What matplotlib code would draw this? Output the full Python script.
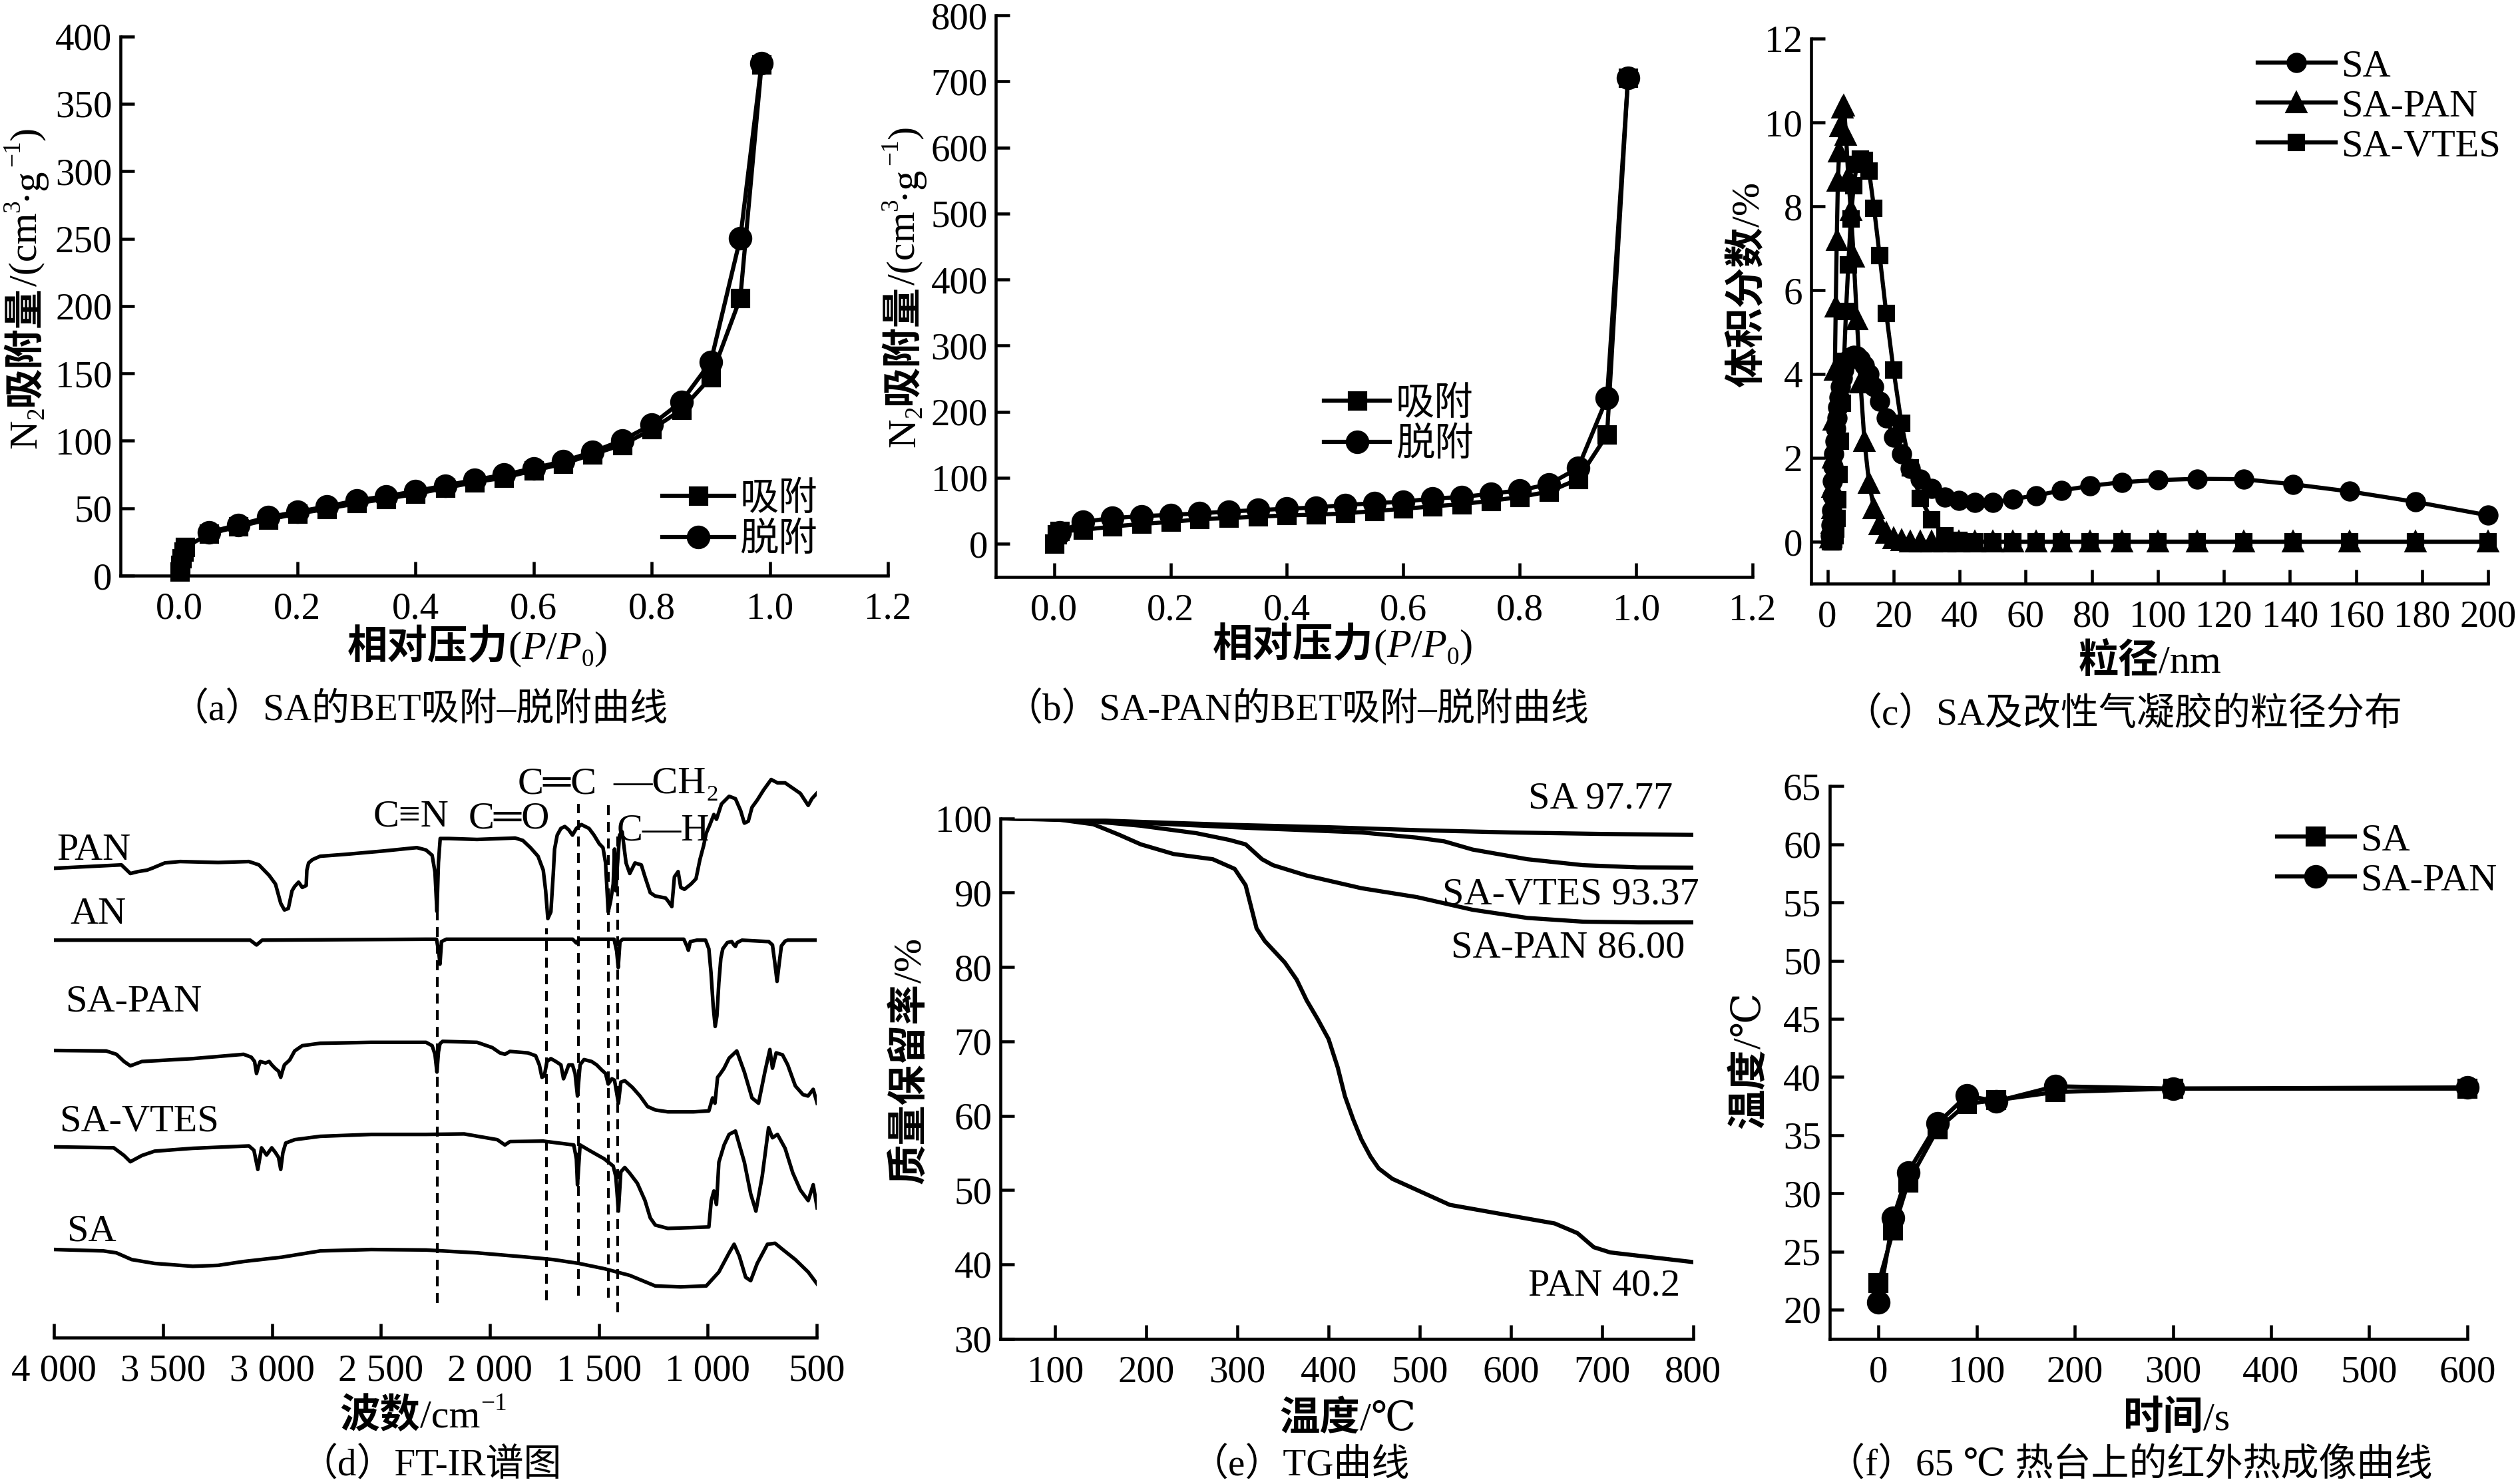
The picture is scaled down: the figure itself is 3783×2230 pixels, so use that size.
import numpy as np
import matplotlib
matplotlib.use('Agg')
import matplotlib.pyplot as plt
from matplotlib.ticker import FormatStrFormatter

SERIF = ['Liberation Serif', 'DejaVu Serif', 'Noto Sans CJK SC']
plt.rcParams['font.family'] = SERIF
plt.rcParams['axes.linewidth'] = 1.1
plt.rcParams['axes.unicode_minus'] = False

W, H, DPI = 3783, 2230, 300

# (a) SA BET isotherm
a_p_ads = [0.0005, 0.002, 0.004, 0.007, 0.01, 0.05, 0.10, 0.15, 0.20, 0.25, 0.30, 0.35, 0.40,
           0.45, 0.50, 0.55, 0.60, 0.65, 0.70, 0.75, 0.80, 0.85, 0.90, 0.95, 0.986]
a_v_ads = [3, 8, 13, 18, 21, 31, 36.4, 41.6, 46, 49.5, 53.7, 57, 60.6,
           65, 69.3, 72.7, 78, 83, 90, 97, 108.4, 123, 147, 206, 379]
a_p_des = [0.986, 0.95, 0.90, 0.85, 0.80, 0.75, 0.70, 0.65, 0.60, 0.55, 0.50,
           0.45, 0.40, 0.35, 0.30, 0.25, 0.20, 0.15, 0.10, 0.05]
a_v_des = [380, 250.4, 158.6, 129, 112, 100.4, 91.8, 84.8, 79.7, 74.8, 71,
           66.8, 62.7, 58.9, 55.8, 51.3, 47.4, 43.3, 37.7, 32.2]

# (b) SA-PAN BET isotherm
b_p_ads = [0.0005, 0.005, 0.01, 0.05, 0.10, 0.15, 0.20, 0.25, 0.30, 0.35, 0.40, 0.45,
           0.50, 0.55, 0.60, 0.65, 0.70, 0.75, 0.80, 0.85, 0.90, 0.95, 0.986]
b_v_ads = [0, 14, 19, 21, 26, 30, 33, 37, 39, 41, 43, 44,
           46, 49.5, 53, 56.5, 60, 65, 70.7, 79, 97.5, 165, 705]
b_p_des = [0.986, 0.95, 0.90, 0.85, 0.80, 0.75, 0.70, 0.65, 0.60, 0.55, 0.50,
           0.45, 0.40, 0.35, 0.30, 0.25, 0.20, 0.15, 0.10, 0.05, 0.01]
b_v_des = [705, 221, 114.5, 90, 81, 75.6, 70.7, 68.5, 63.6, 61.5, 58.7,
           55, 53, 51, 48.8, 46, 43.8, 41.7, 38.9, 33.2, 17.7]

# (c) particle size distribution
c_size = [1.0, 1.12, 1.26, 1.41, 1.58, 1.78, 2.0, 2.24, 2.51, 2.82, 3.16, 3.55, 3.98, 4.47,
          5.01, 5.62, 6.31, 7.08, 7.94, 8.91, 10.0, 11.2, 12.6, 14.1, 15.8, 17.8, 20.0, 22.4,
          25.1, 28.2, 31.6, 35.5, 39.8, 44.7, 50.1, 56.2, 63.1, 70.8, 79.4, 89.1, 100, 112,
          126, 141, 158, 178, 200]
c_sa = [0.15, 0.4, 0.75, 1.1, 1.45, 1.8, 2.1, 2.4, 2.7, 2.95, 3.2, 3.45, 3.7, 3.9,
        4.1, 4.25, 4.35, 4.42, 4.45, 4.43, 4.35, 4.2, 4.0, 3.7, 3.35, 2.95, 2.5, 2.1,
        1.75, 1.5, 1.27, 1.06, 0.98, 0.94, 0.94, 1.02, 1.1, 1.22, 1.33, 1.42, 1.47, 1.5,
        1.49, 1.37, 1.2, 0.95, 0.63]
c_pan = [0.1, 0.2, 0.45, 0.8, 1.3, 2.0, 2.9, 4.1, 5.6, 7.2, 8.6, 9.3, 9.9, 10.35,
         10.4, 9.7, 8.7, 7.9, 6.8, 5.3, 3.8, 2.4, 1.4, 0.8, 0.42, 0.2, 0.08, 0.03,
         0, 0, 0, 0, 0, 0, 0, 0, 0, 0, 0, 0, 0, 0,
         0, 0, 0, 0, 0]
c_vtes = [0, 0, 0, 0, 0, 0, 0.05, 0.15, 0.3, 0.55, 1.0, 1.6, 2.4, 3.3,
          4.3, 5.5, 6.6, 7.7, 8.5, 9.0, 9.13, 9.1, 8.84, 7.96, 6.83, 5.45, 4.1, 2.82,
          1.76, 1.03, 0.52, 0.15, 0.03, 0, 0, 0, 0, 0, 0, 0, 0, 0,
          0, 0, 0, 0, 0]

# (d) FT-IR spectra, (wavenumber, offset transmittance)
ir_pan = [(3997, 97.8), (3691, 98.5), (3650, 96.7), (3615, 97.1), (3574, 97.4), (3550, 97.8),
          (3492, 98.9), (3422, 99.2), (3247, 99.0), (3106, 99.2), (3060, 98.5), (3013, 96.3),
          (2984, 94.5), (2960, 90.5), (2943, 89.1), (2925, 89.4), (2908, 93.1), (2896, 94.0),
          (2878, 94.9), (2861, 93.8), (2843, 94.2), (2840, 97.4), (2832, 98.9), (2814, 99.6),
          (2779, 100.3), (2662, 100.7), (2487, 101.4), (2335, 102.1), (2293, 101.6),
          (2265, 100.5), (2252, 97.0), (2243, 88.8), (2236, 99.0), (2228, 104.0), (2188, 104.0),
          (2059, 103.8), (1884, 104.1), (1849, 103.6), (1814, 102.1), (1779, 100.3),
          (1755, 97.4), (1744, 93.1), (1734, 87.3), (1720, 88.7), (1709, 96.7), (1703, 101.8),
          (1691, 104.7), (1674, 106.1), (1656, 106.5), (1638, 105.8), (1621, 104.7),
          (1603, 106.1), (1580, 106.9), (1545, 106.1), (1522, 104.7), (1498, 102.9),
          (1481, 102.1), (1469, 98.9), (1457, 88.7), (1446, 90.9), (1434, 94.5), (1428, 101.8),
          (1422, 93.1), (1414, 98.9), (1405, 104.7), (1393, 105.4), (1375, 98.9), (1358, 96.7),
          (1334, 98.9), (1305, 98.5), (1288, 96.0), (1264, 92.7), (1241, 92.0), (1194, 91.6),
          (1183, 91.0), (1165, 89.8), (1153, 96.0), (1136, 97.1), (1124, 93.8), (1107, 93.4),
          (1077, 94.5), (1054, 95.6), (1036, 99.6), (1019, 102.5), (1007, 105.1), (990, 106.9),
          (972, 109.0), (960, 108.0), (937, 111.2), (902, 112.8), (873, 112.3), (849, 109.8),
          (832, 107.2), (814, 107.6), (797, 110.5), (773, 112.0), (744, 114.1), (709, 116.3),
          (680, 115.6), (645, 115.6), (610, 114.5), (575, 113.4), (539, 110.9), (522, 112.3),
          (500, 113.4)]
ir_an = [(3997, 82.8), (3100, 82.8), (3071, 81.8), (3045, 82.8), (2293, 83.0), (2245, 83.0),
         (2235, 80.5), (2229, 77.8), (2222, 82.5), (2200, 83.0), (1620, 83.0), (1603, 82.2),
         (1590, 83.0), (1430, 83.0), (1418, 80.5), (1411, 77.1), (1403, 82.5), (1390, 83.0),
         (1110, 83.0), (1095, 81.5), (1089, 80.7), (1080, 82.5), (1050, 82.8), (1010, 82.8),
         (995, 81.0), (985, 76.0), (975, 69.0), (966, 64.8), (958, 67.0), (949, 74.0),
         (940, 79.0), (931, 81.0), (910, 82.3), (890, 82.5), (880, 81.8), (873, 81.5),
         (865, 82.3), (843, 82.8), (720, 82.5), (703, 81.8), (692, 78.0), (682, 74.2),
         (672, 78.0), (662, 81.6), (645, 82.6), (633, 82.8), (500, 82.8)]
ir_sapan = [(3997, 59.8), (3761, 59.7), (3714, 59.0), (3679, 57.5), (3650, 56.6), (3597, 57.5),
            (3364, 58.1), (3130, 59.0), (3095, 58.4), (3080, 57.5), (3071, 55.0), (3062, 56.5),
            (3054, 57.5), (3030, 57.2), (3013, 57.5), (3001, 56.8), (2984, 56.0), (2970, 55.5),
            (2960, 54.2), (2952, 55.5), (2943, 56.8), (2919, 57.8), (2896, 59.7), (2861, 60.8),
            (2779, 61.3), (2545, 61.5), (2293, 61.5), (2265, 60.8), (2252, 59.0), (2243, 55.3),
            (2236, 59.5), (2229, 61.2), (2217, 61.7), (2059, 61.5), (1989, 60.4), (1954, 59.3),
            (1931, 59.0), (1908, 59.6), (1826, 59.3), (1790, 58.7), (1773, 56.8), (1761, 54.2),
            (1750, 54.5), (1738, 57.5), (1720, 58.1), (1697, 57.5), (1674, 56.8), (1662, 53.9),
            (1650, 55.3), (1638, 56.8), (1621, 56.8), (1609, 55.0), (1598, 50.3), (1586, 56.8),
            (1568, 57.9), (1533, 57.5), (1510, 56.8), (1486, 55.7), (1469, 55.0), (1457, 52.8),
            (1440, 53.9), (1428, 53.6), (1410, 48.8), (1399, 53.2), (1381, 53.5), (1346, 52.1),
            (1311, 50.3), (1276, 48.1), (1241, 47.4), (1183, 47.0), (1066, 47.0), (995, 47.2),
            (978, 49.9), (967, 48.8), (955, 54.2), (943, 54.9), (925, 56.1), (902, 58.2),
            (867, 59.7), (832, 55.3), (797, 49.9), (767, 48.8), (738, 55.3), (715, 60.0),
            (703, 56.1), (686, 59.3), (657, 58.9), (633, 56.8), (598, 52.4), (563, 50.6),
            (540, 50.3), (516, 51.7), (498, 48.8)]
ir_savtes = [(3997, 39.7), (3726, 39.5), (3679, 37.9), (3650, 36.6), (3597, 37.9), (3539, 38.8),
             (3364, 39.4), (3106, 39.9), (3083, 39.0), (3065, 35.0), (3048, 39.5), (3025, 38.0),
             (3001, 39.5), (2984, 38.5), (2970, 37.5), (2960, 35.0), (2950, 38.5), (2937, 40.5),
             (2896, 41.2), (2779, 41.9), (2545, 42.3), (2293, 42.3), (2118, 42.4), (1966, 41.2),
             (1931, 40.1), (1908, 40.8), (1755, 40.9), (1615, 40.1), (1603, 37.2), (1598, 31.8),
             (1586, 40.1), (1545, 39.0), (1475, 37.2), (1434, 35.7), (1422, 33.5), (1410, 26.3),
             (1399, 34.5), (1381, 35.4), (1358, 34.2), (1323, 32.1), (1288, 28.5), (1264, 24.9),
             (1241, 23.4), (1183, 22.7), (995, 23.0), (984, 28.5), (972, 30.5), (960, 27.7),
             (949, 36.5), (925, 40.1), (902, 42.3), (873, 43.0), (832, 36.5), (803, 29.9),
             (779, 26.3), (750, 33.6), (721, 43.7), (703, 41.6), (680, 42.3), (645, 39.4),
             (610, 34.3), (575, 30.7), (539, 28.5), (516, 31.8), (498, 27.0)]
ir_sa = [(3997, 18.3), (3773, 18.0), (3714, 17.6), (3644, 16.2), (3539, 15.4), (3364, 14.8),
         (3247, 15.0), (3130, 15.8), (2955, 16.7), (2779, 18.0), (2545, 18.3), (2293, 18.2),
         (2059, 17.6), (1826, 16.7), (1709, 16.2), (1592, 15.4), (1475, 14.3), (1358, 12.9),
         (1241, 10.7), (1124, 10.5), (1007, 10.7), (949, 13.6), (902, 17.6), (879, 19.4),
         (855, 16.9), (826, 12.5), (803, 11.8), (773, 15.4), (726, 19.4), (691, 19.6),
         (656, 18.3), (598, 16.2), (539, 13.6), (498, 11.1)]
ir_names = ['PAN', 'AN', 'SA-PAN', 'SA-VTES', 'SA']
ir_name_pos = [(3989, 99.6), (3925, 86.2), (3950, 68.0), (3977, 43.0), (3942, 20.1)]
ir_bands = [2241, 1741, 1594, 1457, 1412]
ir_band_top = [88.7, 85.2, 111.2, 111.2, 104.7]
ir_band_bottom = [7.2, 7.7, 8.7, 8.2, 5.2]
ir_ticks = [4000, 3500, 3000, 2500, 2000, 1500, 1000, 500]
ir_ticklabels = ['4 000', '3 500', '3 000', '2 500', '2 000', '1 500', '1 000', '500']

# (e) TG curves
tg_sa = [(40, 100), (130, 99.8), (200, 99.5), (300, 99.1), (400, 98.8), (500, 98.4),
         (600, 98.1), (700, 97.9), (800, 97.77)]
tg_vtes = [(40, 100), (130, 99.8), (194, 99.4), (315, 98.7), (436, 98.1), (497, 97.4),
           (527, 96.9), (558, 95.8), (618, 94.5), (679, 93.7), (739, 93.4), (800, 93.37)]
tg_sapan = [(40, 100), (133, 99.7), (194, 99.0), (255, 98.0), (291, 97.1), (309, 96.5),
            (318, 95.5), (327, 94.5), (339, 93.7), (376, 92.3), (436, 90.6), (497, 89.4),
            (558, 87.7), (618, 86.6), (679, 86.1), (740, 86.0), (800, 86.0)]
tg_pan = [(40, 100), (100, 99.9), (142, 99.2), (170, 97.8), (194, 96.5), (230, 95.2),
          (273, 94.5), (297, 93.2), (309, 91.0), (321, 85.2), (330, 83.5), (352, 80.6),
          (365, 78.3), (376, 75.5), (388, 73.0), (400, 70.3), (410, 66.5), (418, 62.6),
          (427, 59.5), (436, 56.8), (446, 54.5), (455, 52.9), (470, 51.5), (497, 50.0),
          (533, 48.0), (588, 46.8), (648, 45.5), (673, 44.2), (691, 42.3), (709, 41.6),
          (800, 40.3)]
tg_labels = ['SA 97.77', 'SA-VTES 93.37', 'SA-PAN 86.00', 'PAN 40.2']
tg_label_pos = [(698, 102.6), (666, 89.7), (663, 82.6), (702, 37.1)]

# (f) infrared thermal imaging
f_t = [0, 15, 30, 60, 90, 120, 180, 300, 600]
f_sa = [22.3, 26.8, 30.9, 35.5, 37.7, 38.0, 38.7, 39.0, 39.0]
f_sapan = [20.6, 27.9, 31.8, 36.0, 38.4, 37.9, 39.2, 39.0, 39.1]

fig = plt.figure(figsize=(W / DPI, H / DPI), dpi=DPI)
LK = dict(color='k', lw=1.5, mfc='k', mec='k', clip_on=False)


def add_ax(left, top, right, bottom):
    # rectangle given in pixels of the 3783x2230 picture, y downwards
    ax = fig.add_axes([left / W, 1 - bottom / H, (right - left) / W, (bottom - top) / H])
    for s in ('top', 'right'):
        ax.spines[s].set_visible(False)
    ax.tick_params(direction='in', length=5, width=1.1, labelsize=13.7, pad=3)
    ax.tick_params(axis='x', pad=6)
    return ax


def legend(ax, x, y, hlen):
    ax.legend(loc='center left', bbox_to_anchor=(x / W, 1 - y / H), bbox_transform=fig.transFigure,
              frameon=False, fontsize=14, handlelength=hlen, handletextpad=0.15,
              labelspacing=0.12, borderpad=0, borderaxespad=0, numpoints=1)


STYLES = {
    'rm': dict(family=SERIF),
    'it': dict(family=SERIF, style='italic'),
    'cjk': dict(family=['Noto Sans CJK SC'], weight='bold'),
    'sub': dict(family=SERIF, scale=0.62, rise=-0.18),
    'sup': dict(family=SERIF, scale=0.62, rise=0.42),
}


def rich_label(x, y, parts, size=14.5, vertical=False):
    # mixed-font label centred on picture pixel (x, y)
    r = fig.canvas.get_renderer()
    em = size * DPI / 72
    pieces = []
    for s, key in parts:
        st = dict(STYLES[key])
        scale = st.pop('scale', 1.0)
        rise = st.pop('rise', 0.0)
        t = fig.text(0, 0, s, fontsize=size * scale, **st)
        w = t.get_window_extent(r).width
        t.remove()
        pieces.append((s, st, size * scale, rise * em, w))
    total = sum(p[4] for p in pieces)
    cx, cy = x, H - y
    pos = (cy if vertical else cx) - total / 2
    for s, st, fs, rise, w in pieces:
        if vertical:
            px, py = cx + 0.36 * em - rise, pos
        else:
            px, py = pos, cy - 0.36 * em + rise
        fig.text(px / W, py / H, s, fontsize=fs, rotation=90 if vertical else 0,
                 rotation_mode='anchor', ha='left', va='baseline', **st)
        pos += w


# (a)
ax = add_ax(180.8, 54.7, 1334, 865)
ax.plot(a_p_ads, a_v_ads, marker='s', ms=6, label='吸附', **LK)
ax.plot(a_p_des, a_v_des, marker='o', ms=7.5, label='脱附', **LK)
ax.set_xlim(-0.1, 1.2)
ax.set_ylim(0, 400)
ax.set_xticks([0.0, 0.2, 0.4, 0.6, 0.8, 1.0, 1.2])
ax.set_yticks(range(0, 401, 50))
ax.xaxis.set_major_formatter(FormatStrFormatter('%.1f'))
legend(ax, 995, 781, 1.85)

# (b)
ax = add_ax(1496.3, 23.2, 2633, 866.7)
ax.plot(b_p_ads, b_v_ads, marker='s', ms=6, label='吸附', **LK)
ax.plot(b_p_des, b_v_des, marker='o', ms=7.5, label='脱附', **LK)
ax.set_xlim(-0.1, 1.2)
ax.set_ylim(-50, 800)
ax.set_xticks([0.0, 0.2, 0.4, 0.6, 0.8, 1.0, 1.2])
ax.set_yticks(range(0, 801, 100))
ax.xaxis.set_major_formatter(FormatStrFormatter('%.1f'))
legend(ax, 1989, 638, 1.7)

# (c)
ax = add_ax(2720.7, 58.2, 3738, 877)
ax.plot(c_size, c_sa, marker='o', ms=6.3, label='SA', **LK)
ax.plot(c_size, c_pan, marker='^', ms=6.5, label='SA-PAN', **LK)
ax.plot(c_size, c_vtes, marker='s', ms=5.4, label='SA-VTES', **LK)
ax.set_xlim(-5, 200)
ax.set_ylim(-1, 12)
ax.set_xticks(range(0, 201, 20))
ax.set_yticks(range(0, 13, 2))
legend(ax, 3392, 160, 2.0)

# (d)
ax = add_ax(81.3, 1144.7, 1227, 2009.5)
ax.spines['left'].set_visible(False)
for spec in (ir_pan, ir_an, ir_sapan, ir_savtes, ir_sa):
    wn, tr = np.array(spec).T
    ax.plot(wn, tr, color='k', lw=1.3)
for name, (px, py) in zip(ir_names, ir_name_pos):
    ax.text(px, py, name, ha='left', va='baseline', fontsize=14)
for b, t, bt in zip(ir_bands, ir_band_top, ir_band_bottom):
    ax.plot([b, b], [bt, t], color='k', lw=1.0, dashes=(3.6, 2.4))
ax.text(2362, 106.6, 'C≡N', ha='center', va='baseline', fontsize=14)
ax.text(1913, 106.1, 'C═O', ha='center', va='baseline', fontsize=14)
ax.text(1691, 113.4, 'C═C', ha='center', va='baseline', fontsize=14)
ax.text(1434, 113.4, '—CH₂', ha='left', va='baseline', fontsize=14, clip_on=False)
ax.text(1206, 103.6, 'C—H', ha='center', va='baseline', fontsize=14)
ax.set_xlim(4000, 500)
ax.set_ylim(0, 120)
ax.set_yticks([])
ax.set_xticks(ir_ticks)
ax.set_xticklabels(ir_ticklabels)

# (e)
ax = add_ax(1503, 1229.7, 2543.8, 2011.6)
for curve in (tg_sa, tg_vtes, tg_sapan, tg_pan):
    t, m = np.array(curve).T
    ax.plot(t, m, color='k', lw=1.5)
for lab, (px, py) in zip(tg_labels, tg_label_pos):
    ax.text(px, py, lab, ha='center', va='center', fontsize=14, clip_on=False)
ax.set_xlim(40, 800)
ax.set_ylim(30, 100)
ax.set_xticks(range(100, 801, 100))
ax.set_yticks(range(30, 101, 10))

# (f)
ax = add_ax(2748.6, 1181.4, 3706.8, 2011.6)
ax.plot(f_t, f_sa, marker='s', ms=6.3, label='SA', **LK)
ax.plot(f_t, f_sapan, marker='o', ms=7.5, label='SA-PAN', **LK)
ax.set_xlim(-50, 600)
ax.set_ylim(17.5, 65)
ax.set_xticks(range(0, 601, 100))
ax.set_yticks(range(20, 66, 5))
legend(ax, 3421, 1293, 2.0)

# axis titles
xl_p = [('相对压力', 'cjk'), ('(', 'rm'), ('P', 'it'), ('/', 'rm'), ('P', 'it'), ('0', 'sub'), (')', 'rm')]
yl_n2 = [('N', 'rm'), ('2', 'sub'), ('吸附量', 'cjk'), ('/(cm', 'rm'), ('3', 'sup'),
         ('·g', 'rm'), ('−1', 'sup'), (')', 'rm')]
rich_label(717, 968, xl_p)
rich_label(33, 432, yl_n2, vertical=True)
rich_label(2017, 965, xl_p)
rich_label(1352, 430, yl_n2, vertical=True)
rich_label(3230, 989, [('粒径', 'cjk'), ('/nm', 'rm')])
rich_label(2621, 428, [('体积分数', 'cjk'), ('/%', 'rm')], vertical=True)
rich_label(636, 2123, [('波数', 'cjk'), ('/cm', 'rm'), ('−1', 'sup')])
rich_label(2025, 2127, [('温度', 'cjk'), ('/℃', 'rm')])
rich_label(1362, 1594, [('质量保留率', 'cjk'), ('/%', 'rm')], vertical=True)
rich_label(3270, 2127, [('时间', 'cjk'), ('/s', 'rm')])
rich_label(2623, 1594, [('温度', 'cjk'), ('/℃', 'rm')], vertical=True)

# panel captions
captions = ['（a）SA的BET吸附–脱附曲线', '（b）SA-PAN的BET吸附–脱附曲线', '（c）SA及改性气凝胶的粒径分布',
            '（d）FT-IR谱图', '（e）TG曲线', '（f）65 ℃ 热台上的红外热成像曲线']
caption_pos = [(630, 1067), (1948, 1067), (3190, 1074), (647, 2202), (1953, 2202), (3200, 2202)]
for cap, (cx, cy) in zip(captions, caption_pos):
    fig.text(cx / W, 1 - cy / H, cap, ha='center', va='center', fontsize=13.7)

fig.savefig('out.png', dpi=DPI)
